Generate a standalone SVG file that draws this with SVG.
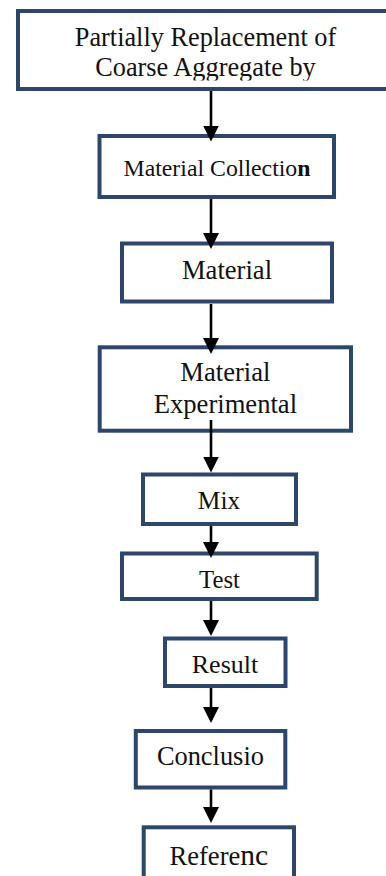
<svg xmlns="http://www.w3.org/2000/svg" width="386" height="876" viewBox="0 0 386 876">
  <style>
    .box { fill: #ffffff; stroke: #2d4669; stroke-width: 4; }
    .lbl { font-family: "Liberation Serif", "Times New Roman", serif; fill: #111111; text-anchor: middle; }
    .link { stroke: #000000; stroke-width: 2.6; fill: none; marker-end: url(#head); }
  </style>
  <defs>
    <marker id="head" markerUnits="userSpaceOnUse" markerWidth="16" markerHeight="16" refX="12" refY="8" orient="auto">
      <path d="M0,0 L16,8 L0,16 z" fill="#000000"/>
    </marker>
    <clipPath id="topClip">
      <rect x="20" y="13" width="370" height="67.5"/>
    </clipPath>
  </defs>
  <rect width="386" height="876" fill="#ffffff"/>

  <g id="node-replacement">
    <rect class="box" x="18" y="11" width="372" height="78"/>
    <g clip-path="url(#topClip)">
      <text class="lbl" x="205.5" y="46" font-size="26.3">Partially Replacement of</text>
      <text class="lbl" x="205.5" y="75.5" font-size="26.3">Coarse Aggregate by</text>
    </g>
  </g>

  <g id="node-collection">
    <rect class="box" x="99.5" y="136" width="234.5" height="61"/>
    <text class="lbl" x="217" y="175.5" font-size="23.8">Material Collectio<tspan font-weight="bold">n</tspan></text>
  </g>

  <g id="node-material">
    <rect class="box" x="122" y="243.5" width="210" height="58"/>
    <text class="lbl" x="227" y="279" font-size="26.6">Material</text>
  </g>

  <g id="node-experimental">
    <rect class="box" x="99.7" y="347.3" width="251.3" height="83.4"/>
    <text class="lbl" x="225.4" y="381" font-size="26.6">Material</text>
    <text class="lbl" x="225.4" y="412.5" font-size="26.6">Experimental</text>
  </g>

  <g id="node-mix">
    <rect class="box" x="143" y="474.5" width="153" height="49.5"/>
    <text class="lbl" x="219" y="509" font-size="25.4">Mix</text>
  </g>

  <g id="node-test">
    <rect class="box" x="122" y="553.5" width="194.7" height="45.5"/>
    <text class="lbl" x="219.5" y="588.3" font-size="24.8">Test</text>
  </g>

  <g id="node-result">
    <rect class="box" x="165" y="638.5" width="120.5" height="47.5"/>
    <text class="lbl" x="225" y="673.3" font-size="26">Result</text>
  </g>

  <g id="node-conclusion">
    <rect class="box" x="135.8" y="731" width="149.5" height="56.5"/>
    <text class="lbl" x="210.4" y="765" font-size="26.4">Conclusio</text>
  </g>

  <g id="node-reference">
    <rect class="box" x="143.7" y="827.3" width="150.3" height="70"/>
    <text class="lbl" x="218.8" y="865" font-size="26.6">Refere<tspan font-size="29.5">nc</tspan></text>
  </g>

  <g id="connectors">
    <line class="link" x1="211" y1="91" x2="211" y2="137.5"/>
    <line class="link" x1="211" y1="199" x2="211" y2="245"/>
    <line class="link" x1="211" y1="304" x2="211" y2="350"/>
    <line class="link" x1="211" y1="420" x2="211" y2="468.5"/>
    <line class="link" x1="211" y1="526" x2="211" y2="554"/>
    <line class="link" x1="211" y1="601" x2="211" y2="632"/>
    <line class="link" x1="211" y1="688" x2="211" y2="719"/>
    <line class="link" x1="211" y1="789.5" x2="211" y2="819"/>
  </g>
</svg>
